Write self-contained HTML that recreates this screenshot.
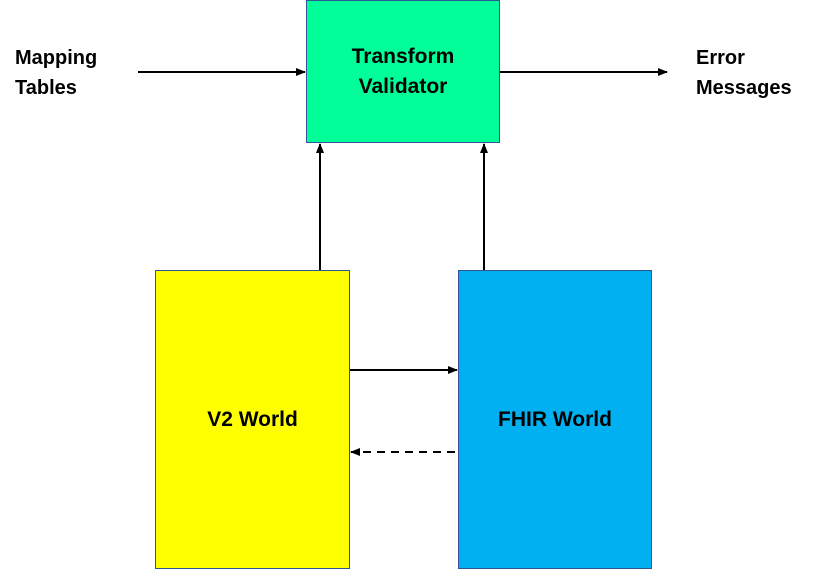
<!DOCTYPE html>
<html><head><style>
body{margin:0;width:817px;height:570px;background:#fff;overflow:hidden;position:relative;font-family:"Liberation Sans",sans-serif;}
.t{position:absolute;font-size:20px;line-height:30px;color:#000;font-weight:bold;}
</style></head><body>
<svg width="817" height="570" style="position:absolute;left:0;top:0">
<defs><marker id="a" markerWidth="10" markerHeight="8" refX="9" refY="4" orient="auto" markerUnits="userSpaceOnUse"><path d="M0,0 L10,4 L0,8 z" fill="#000"/></marker></defs>
<rect x="306.5" y="0.5" width="193" height="142" fill="#00FF99" stroke="#2F5597"/>
<rect x="155.5" y="270.5" width="194" height="298" fill="#FFFF00" stroke="#2F5597"/>
<rect x="458.5" y="270.5" width="193" height="298" fill="#00B0F0" stroke="#2F5597"/>
<g stroke="#000" stroke-width="2" fill="none">
<line x1="138" y1="72" x2="305" y2="72" marker-end="url(#a)"/>
<line x1="500" y1="72" x2="667" y2="72" marker-end="url(#a)"/>
<line x1="320" y1="270" x2="320" y2="144" marker-end="url(#a)"/>
<line x1="484" y1="270" x2="484" y2="144" marker-end="url(#a)"/>
<line x1="350" y1="370" x2="457" y2="370" marker-end="url(#a)"/>
<line x1="455" y1="452" x2="351" y2="452" stroke-dasharray="8,6" marker-end="url(#a)"/>
</g>
</svg>
<div class="t" style="left:15px;top:43px">Mapping<br>Tables</div>
<div class="t" style="left:696px;top:43px">Error<br>Messages</div>
<div class="t" style="left:306px;top:42px;width:194px;text-align:center;font-size:21px">Transform<br>Validator</div>
<div class="t" style="left:155px;top:405px;width:195px;text-align:center;font-size:21px">V2 World</div>
<div class="t" style="left:458px;top:405px;width:194px;text-align:center;font-size:21px">FHIR World</div>
</body></html>
